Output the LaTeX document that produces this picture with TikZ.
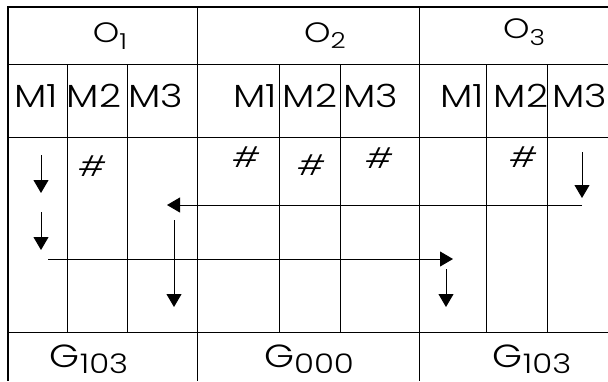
\documentclass[tikz,border=0pt]{standalone}
\usepackage{fontspec}
\IfFontExistsTF{Poppins Light}{\setmainfont{Poppins Light}}{\setmainfont{Poppins}}
\usetikzlibrary{arrows.meta}
\tikzset{
	gridline/.style = {line width=0.9pt},
	frameline/.style = {line width=2.6pt},% outer frame, top and left
	lbl/.style = {anchor=base, inner sep=0pt, xscale=1.2},
	ophead/.style = {lbl, font=\fontsize{28}{28}\selectfont},
	mhead/.style = {lbl, font=\fontsize{32}{32}\selectfont},
	grplbl/.style = {lbl, font=\fontsize{32}{32}\selectfont},
	hashmk/.style = {inner sep=0pt, xscale=1.2,
		font=\fontsize{28}{28}\selectfont\itshape},
	flow/.style = {->, line width=0.9pt}
}
\newcommand{\lowix}[3]{\raisebox{-#1}{\fontsize{#2}{#2}\selectfont #3}}

\begin{document}
\begin{tikzpicture}[x=1pt, y=-1pt,
		>={Triangle[length=13pt, width=15pt]}]
	\useasboundingbox (0,0) rectangle (608,381);
	% frame
	\draw[frameline] (8,7) -- (608,7);
	\draw[frameline] (8,6) -- (8,381);
	% rows
	\foreach \y in {64,137,332}
		\draw[gridline] (8,\y) -- (608,\y);
	% op columns
	\foreach \x in {197,419}
		\draw[gridline] (\x,7) -- (\x,381);
	% machine columns
	\foreach \x in {67,127,279,340,486,547}
		\draw[gridline] (\x,64) -- (\x,332);

	% headers
	\node[ophead] (o1) at (110,42) {O\lowix{7pt}{22}{1}};
	\node[ophead] (o2) at (325,42.5) {O\lowix{6pt}{22}{2}};
	\node[ophead] (o3) at (524,38.5) {O\lowix{7pt}{22}{3}};

	\node[mhead] (m11) at (36,107) {M1};
	\node[mhead] (m12) at (94,107) {M2};
	\node[mhead] (m13) at (156,107) {M3};
	\node[mhead] (m21) at (255,107) {M1};
	\node[mhead] (m22) at (310,107) {M2};
	\node[mhead] (m23) at (371,107) {M3};
	\node[mhead] (m31) at (462,107) {M1};
	\node[mhead] (m32) at (521,107) {M2};
	\node[mhead] (m33) at (580,107) {M3};

	\node[grplbl] (g1) at (89,367) {G\lowix{6pt}{27}{103}};
	\node[grplbl] (g2) at (309,367) {G\lowix{6pt}{27}{000}};
	\node[grplbl] (g3) at (532,367) {G\lowix{6pt}{27}{103}};

	% blocked slots
	\node[hashmk] (h12) at (92,166) {\#};
	\node[hashmk] (h21) at (246,157) {\#};
	\node[hashmk] (h22) at (311,165) {\#};
	\node[hashmk] (h23) at (379,158) {\#};
	\node[hashmk] (h32) at (523,157) {\#};

	% moves
	\coordinate (a1s) at (41,155);  \coordinate (a1e) at (41,193);
	\coordinate (a2s) at (41,212);  \coordinate (a2e) at (41,250);
	\coordinate (a3s) at (582,152); \coordinate (a3e) at (582,198);
	\coordinate (b1s) at (582,205); \coordinate (b1e) at (167,205);
	\coordinate (a4s) at (174,220); \coordinate (a4e) at (174,307);
	\coordinate (b2s) at (48,259);  \coordinate (b2e) at (453,259);
	\coordinate (a5s) at (446,269); \coordinate (a5e) at (446,307);
	\draw[flow] (a1s) -- (a1e);
	\draw[flow] (a2s) -- (a2e);
	\draw[flow] (a3s) -- (a3e);
	\draw[flow] (b1s) -- (b1e);
	\draw[flow] (a4s) -- (a4e);
	\draw[flow] (b2s) -- (b2e);
	\draw[flow] (a5s) -- (a5e);
\end{tikzpicture}
\end{document}
